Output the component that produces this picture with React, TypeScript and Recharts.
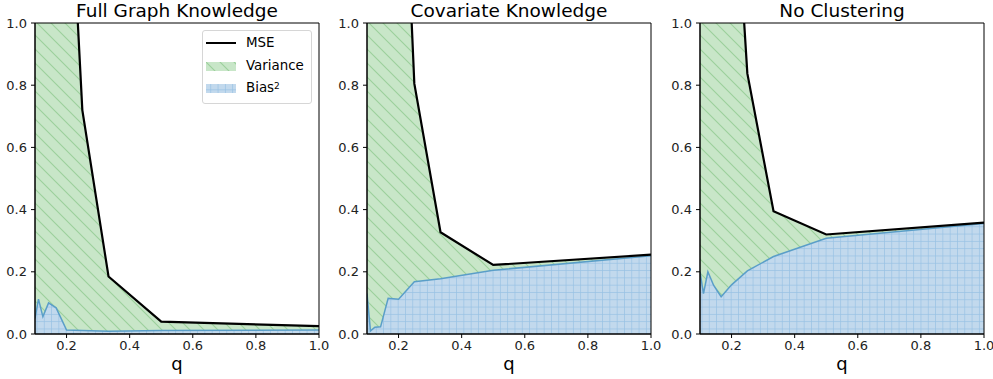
import React from 'react';
import { ComposedChart, Area, Line, XAxis, YAxis, ReferenceArea } from 'recharts';

// q = 1/k for k = 10..1
const Q = [0.1, 0.111, 0.125, 0.143, 0.167, 0.2, 0.25, 0.333, 0.5, 1.0];

const fullMse = [6.0, 5.0, 4.0, 3.0, 2.4, 1.7, 0.72, 0.185, 0.04, 0.025];
const fullBias = [0.05, 0.112, 0.056, 0.1, 0.084, 0.013, 0.011, 0.009, 0.011, 0.013];

const covMse = [6.0, 5.0, 4.0, 3.0, 2.5, 1.97, 0.805, 0.327, 0.222, 0.255];
const covBias = [0.13, 0.01, 0.022, 0.023, 0.115, 0.112, 0.168, 0.178, 0.205, 0.252];

const noMse = [6.0, 5.0, 4.0, 3.0, 2.4, 1.65, 0.838, 0.395, 0.32, 0.358];
const noBias = [0.2, 0.13, 0.2, 0.157, 0.12, 0.158, 0.203, 0.249, 0.308, 0.355];

const xTicks = [0.2, 0.4, 0.6, 0.8, 1.0];
const yTicks = [0, 0.2, 0.4, 0.6, 0.8, 1.0];

const FONT = '"DejaVu Sans", sans-serif';
const GREEN_FILL = '#c8e6c8';
const GREEN_HATCH = '#9bd09b';
const BLUE_FILL = '#c2d9ed';
const BLUE_HATCH = '#98c2e4';
const BIAS_LINE = '#5a9ec8';

const Patterns: React.FC<{ id: string }> = ({ id }) => (
  <defs>
    <pattern id={`green-${id}`} patternUnits="userSpaceOnUse" width={14} height={14}>
      <rect width={14} height={14} fill={GREEN_FILL} />
      <path d="M0,0 L14,14 M-7,7 L7,21 M7,-7 L21,7" stroke={GREEN_HATCH} strokeWidth={1.1} />
    </pattern>
    <pattern id={`blue-${id}`} patternUnits="userSpaceOnUse" width={7.3} height={7.3}>
      <rect width={7.3} height={7.3} fill={BLUE_FILL} />
      <path d="M0,0 L0,7.3 M0,0 L7.3,0" stroke={BLUE_HATCH} strokeWidth={1.4} />
    </pattern>
  </defs>
);

const Legend: React.FC = () => (
  <div style={{ position: 'absolute', left: 202, top: 30, width: 108, height: 72, border: '1px solid #d6d6d6', borderRadius: 3, background: 'rgba(255,255,255,0.85)', fontFamily: FONT, fontSize: 13.4, color: '#000' }}>
    <svg width={110} height={74} style={{ position: 'absolute', left: 0, top: 0 }}>
      <Patterns id="legend" />
      <line x1={3} x2={33} y1={12} y2={12} stroke="#000" strokeWidth={2} />
      <rect x={3} y={31} width={30} height={9} fill="url(#green-legend)" />
      <rect x={3} y={53} width={30} height={9} fill="url(#blue-legend)" />
    </svg>
    <div style={{ position: 'absolute', left: 43, top: 4, lineHeight: '16px' }}>MSE</div>
    <div style={{ position: 'absolute', left: 43, top: 27, lineHeight: '16px' }}>Variance</div>
    <div style={{ position: 'absolute', left: 43, top: 49, lineHeight: '16px' }}>Bias<sup style={{ fontSize: 9, verticalAlign: 'top', position: 'relative', top: -2 }}>2</sup></div>
  </div>
);

interface PanelProps {
  id: string;
  title: string;
  mse: number[];
  bias: number[];
  left: number;
  legend?: boolean;
}

const Panel: React.FC<PanelProps> = ({ id, title, mse, bias, left, legend }) => {
  const data = Q.map((q, i) => ({ q, mse: mse[i], bias: bias[i], variance: [bias[i], mse[i]] }));
  const tickStyle = { fontSize: 13, fill: '#222', fontFamily: FONT };
  return (
    <div style={{ position: 'absolute', left, top: 0, width: 330, height: 379 }}>
      <div style={{ position: 'absolute', left: 35, top: 2, width: 284, textAlign: 'center', fontFamily: FONT, fontSize: 18.5, lineHeight: 1, color: '#000' }}>{title}</div>
      <ComposedChart width={330} height={379} data={data} margin={{ top: 23, right: 11, bottom: 15, left: 0 }}>
        <Patterns id={id} />
        <XAxis
          type="number"
          dataKey="q"
          domain={[0.1, 1]}
          ticks={xTicks}
          allowDataOverflow
          height={30}
          tickSize={4}
          tickMargin={3}
          tick={tickStyle}
          stroke="#000"
          tickFormatter={(v: number) => v.toFixed(1)}
          label={{ value: 'q', position: 'insideBottom', offset: -6, style: { fontSize: 18, fill: '#000', fontFamily: FONT } }}
        />
        <YAxis
          type="number"
          domain={[0, 1]}
          ticks={yTicks}
          allowDataOverflow
          width={35}
          tickSize={4}
          tickMargin={4}
          tick={tickStyle}
          stroke="#000"
          tickFormatter={(v: number) => v.toFixed(1)}
        />
        <Area type="linear" dataKey="variance" fill={`url(#green-${id})`} fillOpacity={1} stroke="none" isAnimationActive={false} />
        <Area type="linear" dataKey="bias" baseValue={0} fill={`url(#blue-${id})`} fillOpacity={1} stroke={BIAS_LINE} strokeWidth={1.5} isAnimationActive={false} />
        <Line type="linear" dataKey="mse" stroke="#000" strokeWidth={2.2} dot={false} activeDot={false} isAnimationActive={false} />
        <ReferenceArea x1={0.1} x2={1} y1={0} y2={1} fill="none" stroke="#000" strokeWidth={1} />
      </ComposedChart>
      {legend && <Legend />}
    </div>
  );
};

export default function App() {
  return (
    <div style={{ position: 'absolute', left: 0, top: 0, width: 993, height: 379, background: '#fff' }}>
      <Panel id="full" title="Full Graph Knowledge" mse={fullMse} bias={fullBias} left={0} legend />
      <Panel id="cov" title="Covariate Knowledge" mse={covMse} bias={covBias} left={332} />
      <Panel id="none" title="No Clustering" mse={noMse} bias={noBias} left={665} />
    </div>
  );
}
